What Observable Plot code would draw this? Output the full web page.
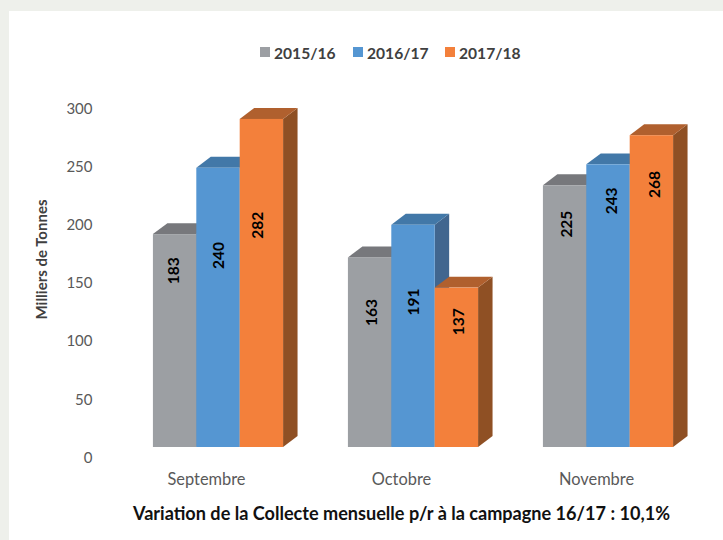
<!DOCTYPE html>
<html>
<head>
<meta charset="utf-8">
<script src="https://cdn.jsdelivr.net/npm/d3@7"></script>
<script src="https://cdn.jsdelivr.net/npm/@observablehq/plot@0.6"></script>
<style>
html,body{margin:0;padding:0;background:#eef0eb;overflow:hidden}
#panel{position:absolute;left:9px;top:11px;width:714px;height:529px;background:#fff}
#chart{position:absolute;left:0;top:0}
#chart svg{background:transparent;display:block}
.leg{position:absolute;top:44px;font:bold 15.6px Lato,sans-serif;color:#404040;line-height:19px;white-space:nowrap}
.leg i{position:absolute;top:3px;width:10px;height:10px}
#caption{position:absolute;left:0;width:803px;top:502px;text-align:center;font:bold 18.1px Lato,sans-serif;color:#111;white-space:nowrap}
</style>
</head>
<body>
<div id="panel"></div>
<div id="chart"></div>
<div id="legend"></div>
<div id="caption"></div>
<script>
const months = ["Septembre", "Octobre", "Novembre"];
const seasons = ["2015/16", "2016/17", "2017/18"];
const values2015 = [183, 163, 225];
const values2016 = [240, 191, 243];
const values2017 = [282, 137, 268];
const labelAt2015 = [152, 116, 192];
const labelAt2016 = [165, 125, 212];
const labelAt2017 = [191, 108, 226];
const labelNudge2015 = [-1, 2, 2];
const labelNudge2016 = [1, 1, 4];
const labelNudge2017 = [-4, 2, 3];
const frontColors = ["#9c9fa3", "#5596d2", "#f3803b"];
const topColors = ["#77787c", "#4278a8", "#b0602e"];
const sideColors = ["#66686c", "#41668f", "#8f5024"];
const legendX = [260, 353, 445];
const captionText = "Variation de la Collecte mensuelle p/r à la campagne 16/17 : 10,1%";
const axisTitle = "Milliers de Tonnes";

const seriesValues = [values2015, values2016, values2017];
const seriesLabels = [labelAt2015, labelAt2016, labelAt2017];
const seriesNudges = [labelNudge2015, labelNudge2016, labelNudge2017];
const barW = 0.2225, depthX = 0.0742, depthY = 9.4, unitPx = 195;

const bars = seasons.flatMap((s, si) => months.map((m, mi) => {
  const x1 = mi + 0.5 + (si - 1.5) * barW;
  return {s, si, m, id: s + m, x1, x2: x1 + barW, value: seriesValues[si][mi],
    labelAt: seriesLabels[si][mi], labelX: x1 + barW / 2 + seriesNudges[si][mi] / unitPx};
}));

const sidePts = bars.flatMap(b => [
  {si: b.si, id: b.id, x: b.x2, y1: 0, y2: b.value},
  {si: b.si, id: b.id, x: b.x2 + depthX, y1: depthY, y2: b.value + depthY}
]);
const topPts = bars.flatMap(b => [
  {si: b.si, id: b.id, y: b.value, x1: b.x1, x2: b.x2},
  {si: b.si, id: b.id, y: b.value + depthY, x1: b.x1 + depthX, x2: b.x2 + depthX}
]);

const barMarks = seasons.flatMap((s, si) => [
  Plot.areaY(sidePts.filter(d => d.si === si), {x: "x", y1: "y1", y2: "y2", z: "id", fill: sideColors[si]}),
  Plot.areaX(topPts.filter(d => d.si === si), {y: "y", x1: "x1", x2: "x2", z: "id", fill: topColors[si]}),
  Plot.rectY(bars.filter(d => d.si === si), {x1: "x1", x2: "x2", y1: 0, y2: "value", fill: frontColors[si]})
]);

const chart = Plot.plot({
  width: 723, height: 540,
  marginTop: 0, marginRight: 0, marginBottom: 0, marginLeft: 0,
  x: {type: "linear", domain: [0, 3], range: [120.5, 705.5]},
  y: {domain: [0, 300], range: [447, 98]},
  style: {fontFamily: "Lato, sans-serif", background: "transparent"},
  marks: [
    ...barMarks,
    Plot.axisY({ticks: [0, 50, 100, 150, 200, 250, 300], tickSize: 0, tickPadding: 0, anchor: "left",
      x: 0.0, dx: -28.5, dy: 10.5, label: null, fontSize: 15, color: "#595959", textAnchor: "end"}),
    Plot.axisX({ticks: [0.5, 1.5, 2.5], tickFormat: d => months[Math.floor(d)], tickSize: 0, anchor: "bottom",
      y: 0, dx: -12, dy: 17, label: null, fontSize: 16.4, color: "#595959", fontWeight: 400}),
    Plot.text(bars, {x: "labelX", y: "labelAt", text: d => String(d.value), rotate: -90,
      fontSize: 15.5, fontWeight: 700, fill: "#000"}),
    Plot.text([axisTitle], {frameAnchor: "left", textAnchor: "middle", dx: 42, dy: -11, rotate: -90, fontSize: 15, fontWeight: 700, fill: "#404040"})
  ]
});
document.getElementById("chart").appendChild(chart);

const legend = document.getElementById("legend");
seasons.forEach((s, i) => {
  const el = document.createElement("div");
  el.className = "leg";
  el.style.left = (legendX[i] + 14) + "px";
  el.textContent = s;
  const sw = document.createElement("i");
  sw.style.left = "-14px";
  sw.style.background = frontColors[i];
  el.appendChild(sw);
  legend.appendChild(el);
});
document.getElementById("caption").textContent = captionText;
</script>
</body>
</html>
